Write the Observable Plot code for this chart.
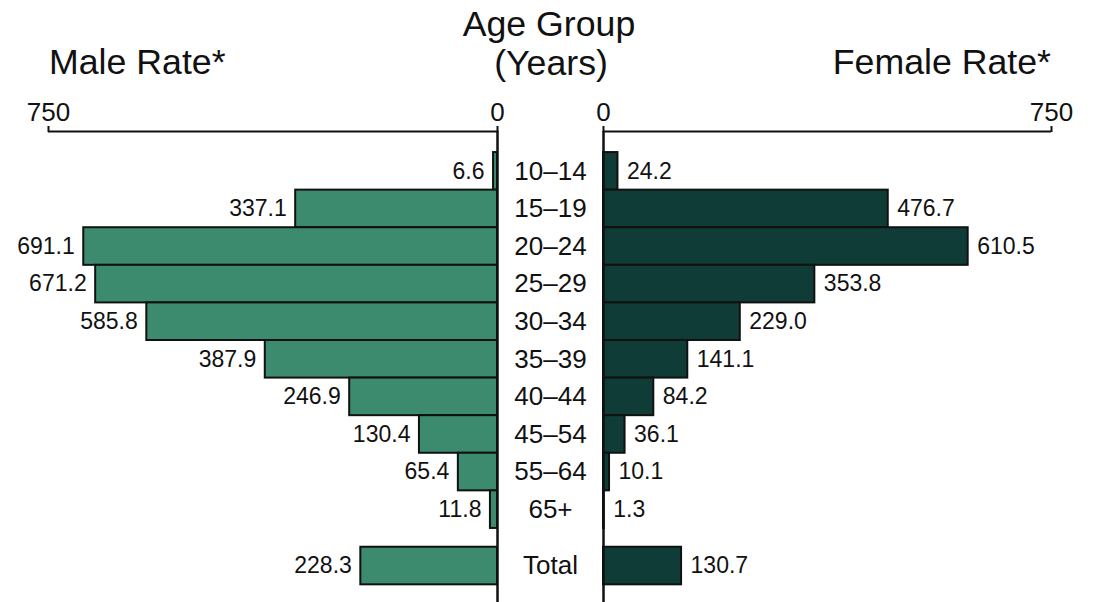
<!DOCTYPE html>
<html>
<head>
<meta charset="utf-8">
<script src="https://cdn.jsdelivr.net/npm/d3@7"></script>
<script src="https://cdn.jsdelivr.net/npm/@observablehq/plot@0.6"></script>
<style>
  html, body { margin: 0; padding: 0; background: #fff; }
  #wrap { position: relative; width: 1102px; height: 602px; overflow: hidden; font-family: "Liberation Sans", Arial, sans-serif; color: #111; }
  .title { position: absolute; font-size: 35.7px; line-height: 35px; white-space: nowrap; }
  #plots svg { position: absolute; }
</style>
</head>
<body>
<div id="wrap">
  <div class="title" style="left:0;width:1102px;text-align:center;top:7px;"><span style="position:relative;left:-2px">Age Group</span></div>
  <div class="title" style="left:0;width:1102px;text-align:center;top:46px;">(Years)</div>
  <div class="title" style="left:49px;top:45px;">Male Rate*</div>
  <div class="title" style="right:51px;top:45px;text-align:right;">Female Rate*</div>
  <div id="plots" style="position:absolute;left:0;top:90px;width:1102px;height:512px;"></div>
</div>
<script>
// ---- data ----
const ageGroups = ["10–14", "15–19", "20–24", "25–29", "30–34", "35–39", "40–44", "45–54", "55–64", "65+", "Total"];
const maleRates = [6.6, 337.1, 691.1, 671.2, 585.8, 387.9, 246.9, 130.4, 65.4, 11.8, 228.3];
const femaleRates = [24.2, 476.7, 610.5, 353.8, 229.0, 141.1, 84.2, 36.1, 10.1, 1.3, 130.7];
const axisTicks = [0, 750];

// ---- derived table ----
const rowPos = ageGroups.map((g, i) => g === "Total" ? i + 0.5 : i);
const rows = ageGroups.map((g, i) => ({group: g, pos: rowPos[i], male: maleRates[i], female: femaleRates[i]}));

const yDomain = [-1.06, 11.47];
const font = "'Liberation Sans', Arial, sans-serif";
const maleFill = "#3d8b6e";
const femaleFill = "#0f3c36";

function common(extra) {
  return Object.assign({
    height: 512,
    marginTop: 41,
    marginBottom: 0,
    style: {fontFamily: font, fontSize: "22px", color: "#111", background: "transparent", overflow: "visible"},
    y: {type: "linear", domain: yDomain, reverse: true, axis: null}
  }, extra);
}

const left = Plot.plot(common({
  width: 550,
  marginLeft: 48,
  marginRight: 53,
  x: {domain: [0, 750], reverse: true},
  marks: [
    Plot.rect(rows, {x1: 0, x2: "male", y1: d => d.pos - 0.5, y2: d => d.pos + 0.5, fill: maleFill, stroke: "#111", strokeWidth: 2}),
    Plot.ruleX([0], {stroke: "#111", strokeWidth: 2.5}),
    Plot.ruleY([yDomain[0]], {stroke: "#111", strokeWidth: 2}),
    Plot.axisX({anchor: "top", ticks: axisTicks, tickSize: 6, tickPadding: 5, fontSize: 26, label: null, tickFormat: d => String(d), stroke: "#111", strokeWidth: 2}),
    Plot.text(rows, {x: "male", y: "pos", text: d => d.male.toFixed(1), textAnchor: "end", dx: -9, fontSize: 23, fill: "#111"}),
    Plot.text(rows, {y: "pos", text: "group", frameAnchor: "right", dx: 53, textAnchor: "middle", fontSize: 26, fill: "#111"})
  ]
}));

const right = Plot.plot(common({
  width: 552,
  marginLeft: 53,
  marginRight: 51,
  x: {domain: [0, 750]},
  marks: [
    Plot.rect(rows, {x1: 0, x2: "female", y1: d => d.pos - 0.5, y2: d => d.pos + 0.5, fill: femaleFill, stroke: "#111", strokeWidth: 2}),
    Plot.ruleX([0], {stroke: "#111", strokeWidth: 2.5}),
    Plot.ruleY([yDomain[0]], {stroke: "#111", strokeWidth: 2}),
    Plot.axisX({anchor: "top", ticks: axisTicks, tickSize: 6, tickPadding: 5, fontSize: 26, label: null, tickFormat: d => String(d), stroke: "#111", strokeWidth: 2}),
    Plot.text(rows, {x: "female", y: "pos", text: d => d.female.toFixed(1), textAnchor: "start", dx: 9, fontSize: 23, fill: "#111"})
  ]
}));

left.style.left = "0px";
left.style.top = "0px";
right.style.left = "550px";
right.style.top = "0px";
const holder = document.getElementById("plots");
holder.appendChild(right);
holder.appendChild(left);
</script>
</body>
</html>
